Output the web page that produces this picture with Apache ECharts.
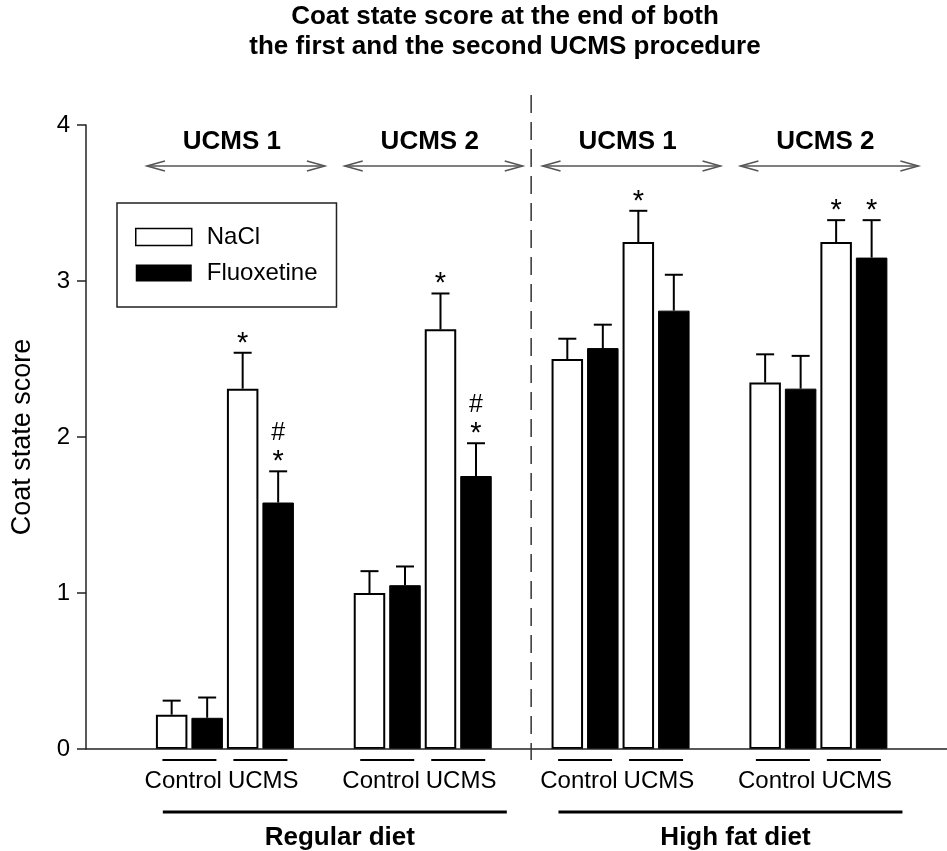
<!DOCTYPE html>
<html><head><meta charset="utf-8">
<script src="https://cdn.jsdelivr.net/npm/echarts@6/dist/echarts.min.js"></script>
<style>html,body{margin:0;padding:0;background:#fff}#chart{width:947px;height:851px}</style>
</head><body><div id="chart"></div>
<script>
// ---------- data ----------
const groups = ['Regular diet UCMS 1', 'Regular diet UCMS 2', 'High fat diet UCMS 1', 'High fat diet UCMS 2'];
const periodLabels = ['UCMS 1', 'UCMS 2', 'UCMS 1', 'UCMS 2'];
const dietLabels = ['Regular diet', 'High fat diet'];
const conditionLabels = ['Control', 'UCMS'];
const yTicks = [0, 1, 2, 3, 4];

const naclControl    = [0.22, 1.00, 2.50, 2.35];
const naclControlErr = [0.09, 0.14, 0.13, 0.18];
const fluoxControl    = [0.20, 1.05, 2.57, 2.31];
const fluoxControlErr = [0.13, 0.12, 0.15, 0.21];
const naclUcms    = [2.31, 2.69, 3.25, 3.25];
const naclUcmsErr = [0.23, 0.23, 0.20, 0.14];
const fluoxUcms    = [1.58, 1.75, 2.81, 3.15];
const fluoxUcmsErr = [0.20, 0.21, 0.23, 0.24];
const naclUcmsMarks  = [['*'], ['*'], ['*'], ['*']];
const fluoxUcmsMarks = [['*', '#'], ['*', '#'], [], ['*']];

// ---------- style ----------
const FONT = "'Liberation Sans', Arial, Helvetica, sans-serif";
const BAR_W = 31.5, BAR_GAP = 4, PITCH = BAR_W + BAR_GAP;
const Y_AXIS_OFFSET = 40;
const INK = '#000';

const slots = [
  { vals: naclControl, errs: naclControlErr, marks: null },
  { vals: fluoxControl, errs: fluoxControlErr, marks: null },
  { vals: naclUcms, errs: naclUcmsErr, marks: naclUcmsMarks },
  { vals: fluoxUcms, errs: fluoxUcmsErr, marks: fluoxUcmsMarks }
];
const errItems = [];
slots.forEach((s, slot) => s.vals.forEach((v, g) => {
  errItems.push({ value: [g, slot, v, s.errs[g]], marks: s.marks ? s.marks[g] : [] });
}));

function renderErr(params, api) {
  const g = api.value(0), slot = api.value(1), v = api.value(2), e = api.value(3);
  const b = api.coord([g, v]);
  const t = api.coord([g, v + e]);
  const x = b[0] + (slot - 1.5) * PITCH;
  const ls = { stroke: INK, lineWidth: 2 };
  const children = [
    { type: 'line', shape: { x1: x, y1: b[1], x2: x, y2: t[1] }, style: ls },
    { type: 'line', shape: { x1: x - 9, y1: t[1], x2: x + 9, y2: t[1] }, style: ls }
  ];
  const marks = errItems[params.dataIndex].marks;
  marks.forEach((m) => {
    children.push({ type: 'text', style: {
      text: m, x: x, y: t[1] - (m === '*' ? 9 : 38),
      align: 'center', verticalAlign: 'middle',
      fontSize: m === '*' ? 29 : 25, fontFamily: FONT, fill: INK } });
  });
  return { type: 'group', children };
}

function renderDecor(params, api) {
  const cx = groups.map((_, g) => api.coord([g, 0])[0]);
  const base = api.coord([0, 0])[1];
  const top = api.coord([0, 4])[1];
  const band = cx[1] - cx[0];
  const axisX = cx[0] - band / 2 - Y_AXIS_OFFSET;
  const ch = [];
  // x baseline
  ch.push({ type: 'line', shape: { x1: axisX, y1: base, x2: api.getWidth(), y2: base }, style: { stroke: '#222', lineWidth: 1.5 } });
  // dashed separator
  const sepX = (cx[1] + cx[2]) / 2 + 9.5;
  ch.push({ type: 'line', shape: { x1: sepX, y1: 95, x2: sepX, y2: base + 11 }, style: { stroke: '#333', lineWidth: 1.5, lineDash: [18, 9] } });
  // period arrows + labels
  cx.forEach((c, g) => {
    const ay = top + 41, x1 = c - 78, x2 = c + 100;
    const as = { stroke: '#555', lineWidth: 1.5, fill: null };
    ch.push({ type: 'line', shape: { x1, y1: ay, x2, y2: ay }, style: as });
    ch.push({ type: 'polyline', shape: { points: [[x1 + 18, ay - 5], [x1, ay], [x1 + 18, ay + 5]] }, style: as });
    ch.push({ type: 'polyline', shape: { points: [[x2 - 18, ay - 5], [x2, ay], [x2 - 18, ay + 5]] }, style: as });
    ch.push({ type: 'text', style: { text: periodLabels[g], x: c + 7, y: top + 17, align: 'center', verticalAlign: 'middle',
      fontSize: 26, fontWeight: 'bold', fontFamily: FONT, fill: INK } });
    // condition lines + labels
    [-1, 1].forEach((d) => {
      const pc = c + d * PITCH;
      ch.push({ type: 'line', shape: { x1: pc - 27, y1: base + 11, x2: pc + 27, y2: base + 11 }, style: { stroke: INK, lineWidth: 2 } });
    });
    ch.push({ type: 'text', style: { text: conditionLabels[0], x: c - 3, y: base + 32, align: 'right', verticalAlign: 'middle', fontSize: 24, fontFamily: FONT, fill: INK } });
    ch.push({ type: 'text', style: { text: conditionLabels[1], x: c + 3, y: base + 32, align: 'left', verticalAlign: 'middle', fontSize: 24, fontFamily: FONT, fill: INK } });
  });
  // diet lines + labels
  [0, 1].forEach(d => {
    const mid = (cx[2 * d] + cx[2 * d + 1]) / 2;
    ch.push({ type: 'line', shape: { x1: mid - 161, y1: base + 63, x2: mid + 183, y2: base + 63 }, style: { stroke: INK, lineWidth: 3 } });
    ch.push({ type: 'text', style: { text: dietLabels[d], x: mid + 16, y: base + 89, align: 'center', verticalAlign: 'middle',
      fontSize: 26, fontWeight: 'bold', fontFamily: FONT, fill: INK } });
  });
  return { type: 'group', children: ch };
}

const barCommon = { type: 'bar', barWidth: BAR_W, barGap: (BAR_GAP / BAR_W * 100).toFixed(1) + '%', z: 2, silent: true };
const naclStyle = { color: '#fff', borderColor: INK, borderWidth: 2 };
const fluoxStyle = { color: '#000', borderColor: INK, borderWidth: 1 };

const chart = echarts.init(document.getElementById('chart'), null, { renderer: 'canvas' });
chart.setOption({
  animation: false,
  backgroundColor: '#fff',
  title: {
    text: 'Coat state score at the end of both\nthe first and the second UCMS procedure',
    left: 505, top: 2, padding: 0, textAlign: 'center',
    textStyle: { fontSize: 26, fontWeight: 'bold', fontFamily: FONT, color: INK, lineHeight: 30 }
  },
  legend: {
    data: [
      { name: 'NaCl', itemStyle: { color: '#fff', borderColor: INK, borderWidth: 1.5 } },
      { name: 'Fluoxetine', itemStyle: { color: '#000', borderWidth: 0 } }
    ],
    left: 117, top: 203, orient: 'vertical', icon: 'rect',
    itemWidth: 56, itemHeight: 17, itemGap: 12,
    padding: [22, 19, 22, 18], borderColor: '#222', borderWidth: 1.5, selectedMode: false,
    textStyle: { fontSize: 24, fontFamily: FONT, color: INK, padding: [0, 0, 0, 10], lineHeight: 20 }
  },
  grid: { left: 126, right: 29.7, top: 125, bottom: 102, containLabel: false },
  xAxis: {
    type: 'category', data: groups,
    axisLine: { show: false }, axisTick: { show: false }, axisLabel: { show: false }, splitLine: { show: false }
  },
  yAxis: {
    type: 'value', min: yTicks[0], max: yTicks[yTicks.length - 1], interval: 1, offset: Y_AXIS_OFFSET,
    name: 'Coat state score', nameLocation: 'middle', nameGap: 50, nameRotate: 90,
    nameTextStyle: { fontSize: 27, fontFamily: FONT, color: INK },
    axisLine: { show: true, lineStyle: { color: '#222', width: 1.5 } },
    axisTick: { show: true, length: 9, lineStyle: { color: '#222', width: 1.5 } },
    axisLabel: { fontSize: 24, fontFamily: FONT, color: INK, margin: 16 },
    splitLine: { show: false }
  },
  series: [
    Object.assign({ name: 'NaCl', data: naclControl, itemStyle: naclStyle }, barCommon),
    Object.assign({ name: 'Fluoxetine', data: fluoxControl, itemStyle: fluoxStyle }, barCommon),
    Object.assign({ name: 'NaCl', data: naclUcms, itemStyle: naclStyle }, barCommon),
    Object.assign({ name: 'Fluoxetine', data: fluoxUcms, itemStyle: fluoxStyle }, barCommon),
    { type: 'custom', name: 'err', renderItem: renderErr, data: errItems, z: 3, silent: true, clip: false,
      encode: { x: 0, y: 2 } },
    { type: 'custom', name: 'decor', renderItem: renderDecor, data: [[0, 0]], z: 4, silent: true, clip: false,
      encode: { x: 0, y: 1 } }
  ]
});
</script></body></html>
